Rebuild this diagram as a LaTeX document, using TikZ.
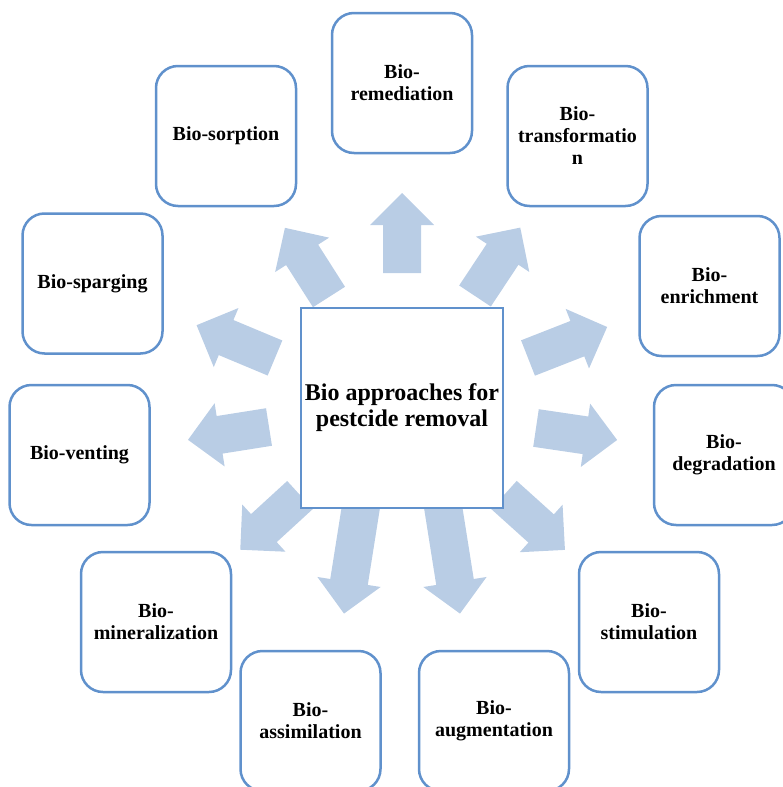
\documentclass[tikz,border=0pt]{standalone}
\usepackage{fontspec}
\setmainfont{Liberation Serif}

\definecolor{boxblue}{RGB}{96,145,204}
\definecolor{arrowblue}{RGB}{185,205,229}

% block arrow: tail point, angle, length
\newcommand{\bioarrow}[3]{%
  \begin{scope}[shift={#1}, rotate=#2]
    \fill[arrowblue] (0,-19) -- ++(#3-32,0) -- ++(0,-13) -- (#3,0)
      -- (#3-32,32) -- ++(0,-13) -- (0,19) -- cycle;
  \end{scope}}

\tikzset{
  biobox/.style={draw=boxblue, line width=2.5pt, rounded corners=22pt, fill=white,
    minimum width=140pt, minimum height=140pt, inner sep=0pt, align=center,
    font=\bfseries\fontsize{20}{22}\selectfont},
  centrebox/.style={draw=boxblue, line width=2pt, fill=white,
    minimum width=202pt, minimum height=200pt, inner sep=0pt, align=center,
    font=\bfseries\fontsize{24}{26}\selectfont}
}

\begin{document}
\begin{tikzpicture}[x=1pt, y=-1pt]
  \useasboundingbox (0,0) rectangle (783,787);

  % arrows
  \bioarrow{(402,273)}{90}{80}
  \bioarrow{(329,297)}{122.5}{82}
  \bioarrow{(475,296)}{56.5}{82}
  \bioarrow{(275,358)}{157.3}{85}
  \bioarrow{(528,358)}{21.4}{85}
  \bioarrow{(269,427)}{-171}{82}
  \bioarrow{(536,428)}{-8.4}{82}
  \bioarrow{(300,495)}{-137.5}{81}
  \bioarrow{(504,495)}{-42}{82}
  \bioarrow{(362,500)}{-99}{115}
  \bioarrow{(442,500)}{-81}{115}

  % centre
  \node[centrebox] (centre) at (402,408) {Bio approaches for\\pestcide removal};

  % outer boxes
  \node[biobox] (remed) at (402,83) {Bio-\\remediation};
  \node[biobox] (transf) at (577.5,136) {Bio-\\transformatio\\n};
  \node[biobox] (sorp) at (226,136) {Bio-sorption};
  \node[biobox] (sparg) at (92.5,283.5) {Bio-sparging};
  \node[biobox] (enrich) at (709.5,286) {Bio-\\enrichment};
  \node[biobox] (vent) at (79.5,455) {Bio-venting};
  \node[biobox] (degr) at (724,455) {Bio-\\degradation};
  \node[biobox, minimum width=150pt] (miner) at (156,622) {Bio-\\mineralization};
  \node[biobox] (stim) at (649,622) {Bio-\\stimulation};
  \node[biobox] (assim) at (310.5,721) {Bio-\\assimilation};
  \node[biobox, minimum width=150pt] (augm) at (494,721) {Bio-\\augmentation};

\end{tikzpicture}
\end{document}
